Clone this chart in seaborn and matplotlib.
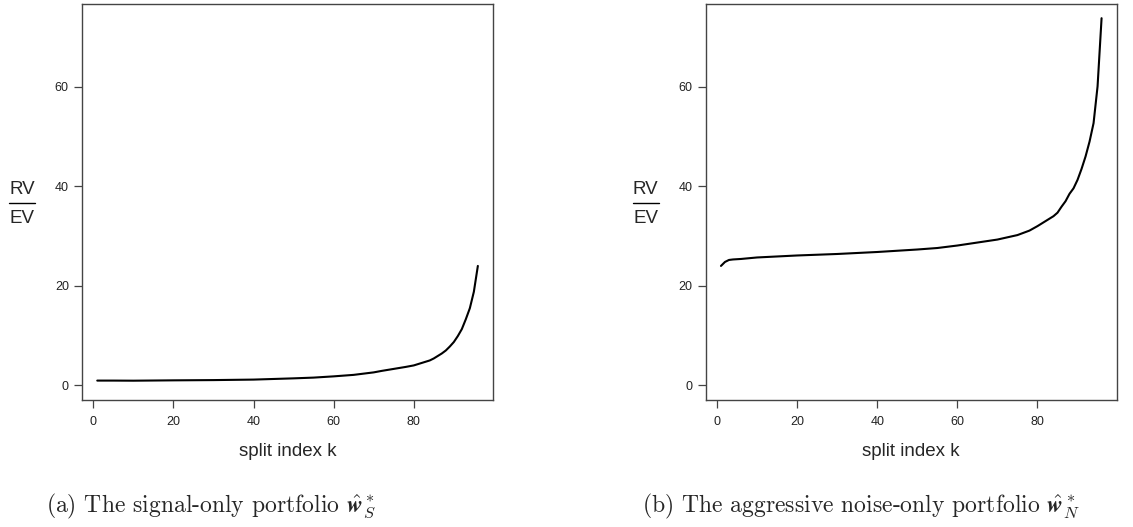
import numpy as np
import pandas as pd
import matplotlib
matplotlib.use('Agg')
import matplotlib.pyplot as plt
import seaborn as sns
from matplotlib.lines import Line2D

# values (split index k -> RV/EV)
k_signal = [1, 5, 10, 20, 30, 40, 50, 55, 60, 65, 70, 72, 75, 78, 80, 82, 84, 85,
            86, 87, 88, 89, 90, 91, 92, 93, 94, 95, 96]
rv_signal = [0.95, 0.95, 0.93, 1.0, 1.05, 1.15, 1.4, 1.55, 1.8, 2.1, 2.6, 2.9, 3.3,
             3.7, 4.0, 4.5, 5.0, 5.4, 5.9, 6.4, 7.0, 7.8, 8.7, 9.9, 11.3, 13.3,
             15.5, 18.8, 24.0]

k_noise = [1, 2, 3, 4, 6, 10, 15, 20, 30, 40, 50, 55, 60, 65, 70, 75, 78, 80, 82,
           84, 85, 86, 87, 88, 89, 90, 91, 92, 93, 94, 95, 96]
rv_noise = [24.0, 24.8, 25.2, 25.3, 25.4, 25.7, 25.9, 26.1, 26.4, 26.8, 27.3, 27.6,
            28.1, 28.7, 29.3, 30.2, 31.1, 32.0, 33.0, 34.0, 34.7, 35.9, 37.0, 38.5,
            39.6, 41.3, 43.5, 46.0, 49.0, 52.7, 60.1, 73.8]

x_ticks = [0, 20, 40, 60, 80]
y_ticks = [0, 20, 40, 60]
captions = [r"(a) The signal-only portfolio $\hat{\mathbfit{w}}^*_S$",
            r"(b) The aggressive noise-only portfolio $\hat{\mathbfit{w}}^*_N$"]

sns.set_style("white")
plt.rcParams['font.family'] = ['Liberation Sans', 'DejaVu Sans']
plt.rcParams['mathtext.fontset'] = 'cm'

fig = plt.figure(figsize=(11.33, 5.27), dpi=100)
ax1 = fig.add_axes([0.0724, 0.241, 0.3628, 0.7514])
ax2 = fig.add_axes([0.6229, 0.241, 0.3628, 0.7514])

df_s = pd.DataFrame({'k': k_signal, 'rv': rv_signal})
df_n = pd.DataFrame({'k': k_noise, 'rv': rv_noise})

for ax, df in [(ax1, df_s), (ax2, df_n)]:
    sns.lineplot(data=df, x='k', y='rv', ax=ax, color='black', linewidth=1.5)
    ax.set_xlim(-2.8, 99.8)
    ax.set_ylim(-2.95, 76.65)
    ax.set_xticks(x_ticks)
    ax.set_yticks(y_ticks)
    ax.tick_params(axis='both', direction='out', length=5.5, width=0.9,
                   color='#444444', labelcolor='#222222', labelsize=9, pad=4,
                   bottom=True, left=True)
    ax.tick_params(axis='x', pad=6)
    for sp in ax.spines.values():
        sp.set_color('#444444')
        sp.set_linewidth(1.0)
    ax.set_xlabel('split index k', fontsize=13.5, labelpad=11)
    ax.set_ylabel('')
    # horizontal fraction label RV / EV
    ax.text(-0.146, 0.531, 'RV', transform=ax.transAxes, ha='center', va='center',
            fontsize=13.5)
    ax.text(-0.146, 0.458, 'EV', transform=ax.transAxes, ha='center', va='center',
            fontsize=13.5)
    ax.add_line(Line2D([-0.178, -0.114], [0.4975, 0.4975], transform=ax.transAxes,
                       color='black', linewidth=1.0, clip_on=False))

fig.text(0.041, 0.028, captions[0], fontsize=17, family='cmr10')
fig.text(0.567, 0.028, captions[1], fontsize=17, family='cmr10')

fig.savefig('out.png', dpi=100)
